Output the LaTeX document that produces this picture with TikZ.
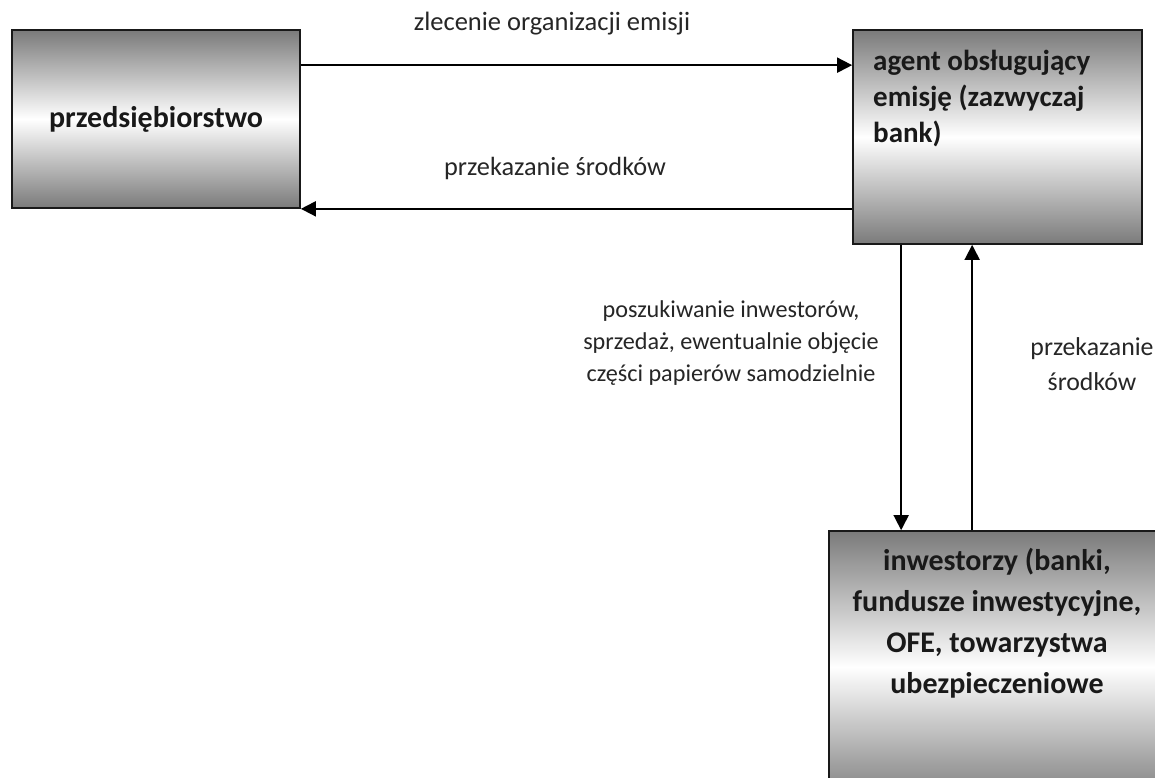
\documentclass[tikz,border=0pt]{standalone}
\usepackage{fontspec}
\setmainfont{Carlito}
\usetikzlibrary{arrows.meta,calc}
\begin{document}
\begin{tikzpicture}[x=1pt,y=-1pt,
  box/.style={draw=black!90, line width=1.7pt, top color=black!52, bottom color=black!52, middle color=white, inner sep=0pt},
  boxtext/.style={font=\fontsize{30}{36}\selectfont\bfseries, text=black!90, inner sep=0pt},
  lbl/.style={font=\fontsize{26.5}{32}\selectfont, text=black!85, inner sep=0pt},
  arr/.style={draw=black, line width=1.8pt, -{Triangle[length=15pt,width=15pt]}}
]
\clip (0,0) rectangle (1155,778);
\fill[white] (0,0) rectangle (1155,778);
% boxes
\node[box, minimum width=288pt, minimum height=178pt] (firm) at (156,119) {};
\node[box, minimum width=289pt, minimum height=214pt] (agent) at (997.5,137) {};
\node[box, minimum width=336pt, minimum height=272pt] (inv) at (997,667) {};
% box texts
\node[boxtext] (firmtext) at (firm.center) {przedsiębiorstwo};
\node[boxtext, align=left, anchor=west, font=\fontsize{29}{36}\selectfont\bfseries] (agenttext) at (873,99) {agent obsługujący\\emisję (zazwyczaj\\bank)};
\node[boxtext, align=center, font=\fontsize{30}{41}\selectfont\bfseries] (invtext) at (997,623) {inwestorzy (banki,\\fundusze inwestycyjne,\\OFE, towarzystwa\\ubezpieczeniowe};
% connectors
\coordinate (t1) at ($(firm.north east)+(0,36)$);
\draw[arr] (t1) -- (t1 -| agent.west);
\draw[arr] (agent.west |- firm.south) -- (firm.south east);
\coordinate (d1) at ($(agent.south west)+(49,0)$);
\coordinate (u1) at ($(agent.south west)+(120,0)$);
\draw[arr] (d1) -- (d1 |- inv.north);
\draw[arr] (u1 |- inv.north) -- (u1);
% labels
\node[lbl] (l1) at (552,24) {zlecenie organizacji emisji};
\node[lbl, font=\fontsize{26.3}{32}\selectfont] (l2) at (555,168) {przekazanie środków};
\node[lbl, align=center, font=\fontsize{24.2}{32}\selectfont] (l3) at (731,343) {poszukiwanie inwestorów,\\sprzedaż, ewentualnie objęcie\\części papierów samodzielnie};
\node[lbl, align=center, font=\fontsize{25.8}{35}\selectfont] (l4) at (1092,364) {przekazanie\\środków};
\end{tikzpicture}
\end{document}
